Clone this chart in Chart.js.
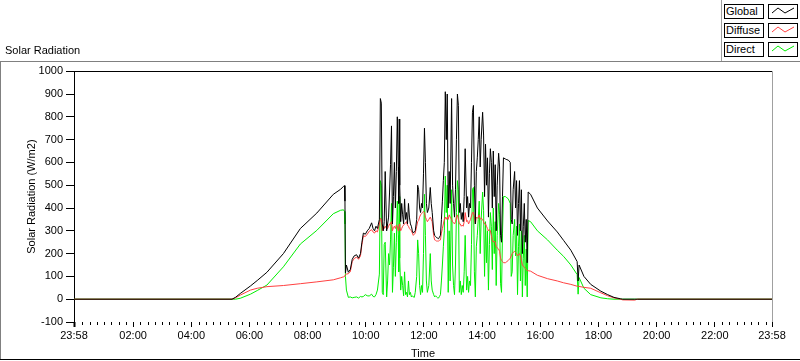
<!DOCTYPE html>
<html>
<head>
<meta charset="utf-8">
<script src="https://cdn.jsdelivr.net/npm/chart.js@4/dist/chart.umd.min.js"></script>
<style>
  html, body { margin: 0; padding: 0; background: #fff; }
  #wrap { position: relative; width: 800px; height: 361px; overflow: hidden; }
  #c { position: absolute; left: 0; top: 0; }
  #legend { position: absolute; left: 721px; top: 0; width: 79px; height: 61px; border-left: 1px solid #a0a0a0; box-sizing: border-box; }
  .lrow { position: absolute; left: 0; height: 15px; }
  .lname { position: absolute; left: 2px; top: 0; width: 40px; height: 15px; border: 1px solid #000; box-sizing: border-box;
           font: 11px "Liberation Sans", Arial, sans-serif; line-height: 13px; padding-left: 1px; color: #000; background: #fff; }
  .lsw { position: absolute; left: 46px; top: 0; width: 30px; height: 15px; border: 1px solid #000; box-sizing: border-box; background: #fff; }
  .lsw svg { position: absolute; left: 0; top: 0; }
</style>
</head>
<body>
<div id="wrap">
  <canvas id="c" width="800" height="361"></canvas>
  <div id="legend"></div>
</div>
<script>
// ---- data (time in minutes after midnight; -2 = 23:58 of previous day) ----
const seriesNames = ['Global', 'Diffuse', 'Direct'];
const seriesColors = ['#000000', '#ff4040', '#00ee00'];

const timeMin = [
  -2, 324, 331, 341, 362, 376, 396, 430, 465, 499, 533, 548, 554, 556, 557, 558, 560, 564, 568, 572,
  576, 581, 585, 589, 592, 595, 599, 603, 607, 612, 615, 618, 621, 624, 628, 630, 632, 634, 636, 638,
  640, 643, 645, 647, 649, 651, 653, 655, 657, 659, 661, 663, 665, 667, 668, 669, 670, 672, 674, 676,
  678, 680, 682, 684, 686, 688, 690, 692, 694, 696, 698, 700, 702, 705, 707, 709, 711, 713, 715, 717,
  719, 721, 723, 725, 727, 730, 733, 735, 737, 740, 742, 744, 746, 748, 750, 752, 754, 756, 758, 760,
  762, 764, 766, 768, 770, 772, 774, 777, 779, 781, 783, 785, 787, 789, 791, 793, 795, 797, 799, 801,
  803, 805, 808, 810, 812, 814, 816, 818, 820, 822, 824, 826, 828, 830, 832, 834, 836, 838, 841, 843,
  845, 847, 849, 851, 853, 855, 857, 859, 861, 863, 865, 867, 869, 871, 874, 876, 878, 880, 882, 884,
  888, 891, 894, 898, 900, 902, 904, 907, 909, 911, 913, 915, 917, 919, 921, 923, 925, 927, 929, 931,
  933, 935, 940, 954, 975, 995, 1008, 1023, 1036, 1038, 1040, 1050, 1064, 1085, 1099, 1112, 1125, 1130, 1155, 1160,
  1438
];

const globalRad = [
  0, 0, 8, 25, 58, 82, 118, 200, 310, 378, 460, 482, 495, 498, 430, 115, 150, 118, 130, 175,
  190, 195, 180, 200, 250, 290, 285, 300, 310, 335, 310, 300, 320, 310, 350, 880, 860, 330, 300, 340,
  560, 300, 330, 360, 470, 590, 760, 330, 450, 600, 400, 560, 800, 580, 420, 790, 500, 340, 420, 370,
  330, 440, 350, 380, 330, 420, 360, 330, 320, 300, 290, 295, 300, 350, 500, 480, 400, 380, 420, 400,
  550, 750, 600, 420, 380, 400, 490, 420, 380, 300, 280, 275, 270, 268, 265, 272, 280, 350, 430, 520,
  600, 910, 700, 900, 400, 560, 420, 880, 500, 420, 360, 480, 700, 900, 850, 380, 420, 350, 380, 340,
  450, 660, 400, 450, 360, 420, 400, 600, 820, 850, 500, 330, 560, 620, 700, 800, 580, 700, 820, 720,
  450, 680, 500, 620, 360, 550, 660, 600, 400, 650, 450, 590, 300, 500, 640, 580, 280, 250, 450, 620,
  615, 612, 610, 600, 350, 330, 480, 560, 400, 520, 280, 420, 520, 300, 480, 200, 320, 420, 250, 350,
  160, 470, 460, 400, 343, 295, 258, 215, 165, 80, 150, 100, 65, 35, 20, 8, 2, 0, 0, 0,
  0
];

const diffuseRad = [
  0, 0, 6, 18, 40, 48, 55, 60, 68, 76, 85, 94, 98, 100, 104, 108, 110, 112, 120, 165,
  178, 185, 175, 190, 240, 278, 275, 285, 298, 305, 295, 290, 300, 295, 330, 355, 350, 300, 320, 310,
  320, 310, 310, 320, 330, 330, 340, 300, 315, 320, 310, 325, 320, 300, 305, 330, 320, 300, 310, 320,
  325, 330, 335, 340, 325, 320, 310, 305, 300, 290, 280, 285, 290, 320, 340, 345, 360, 370, 375, 380,
  385, 380, 360, 350, 340, 350, 360, 350, 340, 280, 260, 258, 255, 255, 255, 258, 260, 290, 310, 330,
  350, 360, 350, 360, 350, 370, 360, 350, 340, 335, 330, 340, 360, 370, 350, 330, 330, 320, 325, 320,
  340, 380, 340, 345, 330, 340, 350, 365, 380, 380, 360, 330, 360, 355, 360, 370, 350, 355, 350, 340,
  330, 330, 320, 310, 300, 305, 300, 280, 260, 250, 255, 250, 230, 225, 220, 210, 180, 170, 165, 160,
  160, 165, 170, 180, 190, 200, 205, 210, 205, 200, 190, 195, 200, 190, 170, 150, 145, 140, 135, 130,
  125, 125, 123, 105, 90, 80, 72, 65, 57, 57, 56, 52, 48, 28, 15, 6, 0, -3, -4, 0,
  0
];

const directRad = [
  0, 0, 0, 4, 22, 38, 62, 142, 242, 302, 375, 390, 392, 385, 330, 100, 40, 8, 10, 6,
  8, 10, 5, 12, 10, 12, 20, 15, 14, 22, 12, 10, 20, 40, 110, 520, 500, 30, 20, 240,
  250, 10, 80, 200, 150, 260, 420, 30, 140, 290, 100, 250, 430, 280, 120, 450, 180, 40, 100, 60,
  15, 120, 20, 30, 10, 80, 20, 30, 10, 15, 10, 8, 30, 100, 260, 200, 60, 20, 60, 30,
  200, 460, 280, 80, 30, 60, 200, 80, 40, 20, 10, 15, 10, 6, 5, 12, 20, 80, 150, 230,
  300, 540, 380, 500, 30, 300, 80, 480, 150, 60, 20, 150, 380, 520, 480, 30, 80, 20, 60, 30,
  120, 280, 40, 100, 30, 80, 60, 240, 480, 490, 120, 10, 230, 280, 350, 430, 200, 350, 470, 390,
  100, 340, 160, 300, 40, 240, 380, 320, 130, 400, 200, 340, 60, 280, 420, 370, 70, 30, 290, 450,
  450, 445, 440, 420, 100, 120, 280, 350, 190, 320, 20, 230, 330, 80, 300, 10, 180, 280, 60, 220,
  10, 345, 340, 300, 260, 215, 188, 150, 108, 22, 95, 48, 20, 6, 2, 0, 0, 0, 0, 0,
  0
];

const seriesValues = [globalRad, diffuseRad, directRad];

// axis ticks
const xMin = -2, xMax = 1438;
const xMajorTicks = [-2, 120, 240, 360, 480, 600, 720, 840, 960, 1080, 1200, 1320, 1438];
const xMajorLabels = ['23:58', '02:00', '04:00', '06:00', '08:00', '10:00', '12:00', '14:00', '16:00', '18:00', '20:00', '22:00', '23:58'];
const xMinorTicks = [];
for (let m = 15; m < 1438; m += 15) { if (m % 120 !== 0) xMinorTicks.push(m); }
const yMin = -100, yMax = 1000, yStep = 100;

// ---- legend (HTML, built from series names / colours) ----
const legendEl = document.getElementById('legend');
seriesNames.forEach((name, i) => {
  const row = document.createElement('div');
  row.className = 'lrow';
  row.style.top = (4 + i * 19) + 'px';
  row.innerHTML = '<div class="lname">' + name + '</div>' +
    '<div class="lsw"><svg width="28" height="13"><polyline points="3,8 9,3 16,8 25,3" fill="none" stroke="' +
    seriesColors[i] + '" stroke-width="1"/></svg></div>';
  legendEl.appendChild(row);
});

// ---- plugin: frame, plot box borders, minor x ticks ----
const framePlugin = {
  id: 'frame',
  beforeDraw(chart) {
    const ctx = chart.ctx;
    ctx.save();
    ctx.fillStyle = '#fff';
    ctx.fillRect(0, 0, chart.width, chart.height);
    ctx.restore();
  },
  afterDraw(chart) {
    const ctx = chart.ctx, a = chart.chartArea, xs = chart.scales.x;
    ctx.save();
    ctx.lineWidth = 1;
    ctx.strokeStyle = '#000';
    ctx.beginPath();
    xMinorTicks.forEach(v => {
      const px = Math.round(xs.getPixelForValue(v)) + 0.5;
      ctx.moveTo(px, a.bottom);
      ctx.lineTo(px, a.bottom + 3);
    });
    ctx.stroke();
    ctx.beginPath();
    ctx.moveTo(a.left, Math.round(a.top) + 0.5);
    ctx.lineTo(a.right, Math.round(a.top) + 0.5);
    ctx.stroke();
    ctx.strokeStyle = '#a0a0a0';
    ctx.beginPath();
    ctx.moveTo(Math.round(a.right) + 0.5, a.top);
    ctx.lineTo(Math.round(a.right) + 0.5, a.bottom);
    ctx.stroke();
    ctx.strokeStyle = '#808080';
    ctx.beginPath();
    ctx.moveTo(0, 61.5); ctx.lineTo(800, 61.5);
    ctx.moveTo(0.5, 61); ctx.lineTo(0.5, 360);
    ctx.stroke();
    ctx.strokeStyle = '#000';
    ctx.beginPath();
    ctx.moveTo(0, 359.5); ctx.lineTo(800, 359.5);
    ctx.stroke();
    ctx.restore();
  }
};

const font = { family: '"Liberation Sans", Arial, sans-serif', size: 11, weight: 'normal' };
Chart.defaults.color = '#000';
Chart.defaults.font = font;

new Chart(document.getElementById('c'), {
  type: 'line',
  data: {
    datasets: seriesNames.map((name, i) => ({
      label: name,
      data: timeMin.map((t, k) => ({ x: t, y: seriesValues[i][k] })),
      borderColor: seriesColors[i],
      backgroundColor: seriesColors[i],
      borderWidth: 1,
      pointRadius: 0,
      tension: 0,
      fill: false
    }))
  },
  options: {
    responsive: false,
    animation: false,
    devicePixelRatio: 1,
    layout: { padding: { left: 5, right: 28, top: 0, bottom: 0 } },
    plugins: {
      legend: { display: false },
      tooltip: { enabled: false },
      title: {
        display: true,
        text: 'Solar Radiation',
        align: 'start',
        color: '#000',
        font: font,
        padding: { top: 44, bottom: 14 }
      }
    },
    scales: {
      x: {
        type: 'linear',
        min: xMin,
        max: xMax,
        afterBuildTicks: (scale) => { scale.ticks = xMajorTicks.map(v => ({ value: v })); },
        afterFit: (scale) => { scale.height = 39; },
        grid: { display: true, drawOnChartArea: false, drawTicks: true, tickLength: 5, color: '#000', tickColor: '#000',
                tickWidth: (c) => (c.index === 0 ? 2 : 1) },
        border: { display: false },
        ticks: {
          autoSkip: false, maxRotation: 0, minRotation: 0, padding: 2, color: '#000',
          callback: (v) => { const i = xMajorTicks.indexOf(v); return i >= 0 ? xMajorLabels[i] : ''; }
        },
        title: { display: true, text: 'Time', color: '#000', font: font, padding: { top: 2, bottom: 0 } }
      },
      y: {
        type: 'linear',
        min: yMin,
        max: yMax,
        afterFit: (scale) => { scale.width = 69; },
        grid: { display: true, drawOnChartArea: false, drawTicks: true, tickLength: 8, color: '#000', tickColor: '#000' },
        border: { display: true, color: '#000', width: 1 },
        ticks: { stepSize: yStep, padding: 3, color: '#000', callback: (v) => String(v) },
        title: { display: true, text: 'Solar Radiation (W/m2)', color: '#000', font: font, padding: { top: 20, bottom: 0 } }
      }
    }
  },
  plugins: [framePlugin]
});
</script>
</body>
</html>
